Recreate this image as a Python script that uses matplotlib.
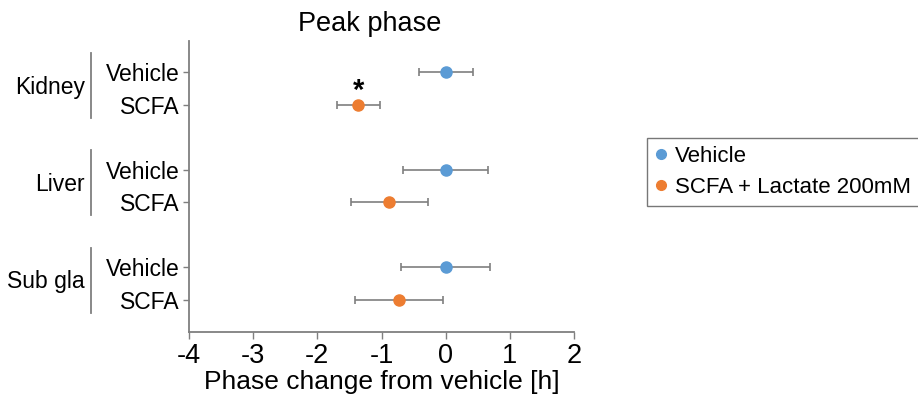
import matplotlib
matplotlib.use("Agg")
import matplotlib.pyplot as plt
import matplotlib.transforms as mtransforms
from matplotlib.lines import Line2D

plt.rcParams['font.family'] = ['Liberation Sans', 'DejaVu Sans']
plt.rcParams['axes.unicode_minus'] = False

# ============ data ============
tissues = ['Kidney', 'Liver', 'Sub gla']
row_labels = ['Vehicle', 'SCFA']
legend_labels = ['Vehicle', 'SCFA + Lactate 200mM']
vehicle_mean = [0.0, 0.0, 0.0]
vehicle_err = [0.42, 0.665, 0.69]
scfa_mean = [-1.36, -0.88, -0.73]
scfa_err = [0.34, 0.60, 0.69]
significant = [True, False, False]
x_ticks = [-4, -3, -2, -1, 0, 1, 2]

BLUE = '#5B9BD5'
ORANGE = '#ED7D31'
GRAY = '#7F7F7F'

# rows: 0,1 | 3,4 | 6,7
veh_y = [3 * i for i in range(len(tissues))]
scfa_y = [3 * i + 1 for i in range(len(tissues))]

fig = plt.figure(figsize=(9.18, 4.01), dpi=100)
ax = fig.add_axes([189 / 918, 69 / 401, 385 / 918, 291 / 401])

ax.errorbar(vehicle_mean, veh_y, xerr=vehicle_err, fmt='o', color=BLUE,
            ecolor=GRAY, elinewidth=1.2, capsize=3, capthick=1.2,
            markersize=8, zorder=3)
ax.errorbar(scfa_mean, scfa_y, xerr=scfa_err, fmt='o', color=ORANGE,
            ecolor=GRAY, elinewidth=1.2, capsize=3, capthick=1.2,
            markersize=8, zorder=3)

for i, sig in enumerate(significant):
    if sig:
        ax.text(scfa_mean[i], scfa_y[i] - 0.42, '*', ha='center', va='center',
                fontsize=21, fontweight='bold')

ax.set_xlim(-4, 2)
ax.set_ylim(8.0, -0.97)
ax.set_xticks(x_ticks)
ax.set_xticklabels([str(t) for t in x_ticks], fontsize=19.5)
ax.set_yticks(veh_y + scfa_y)
ax.set_yticklabels([row_labels[0]] * len(tissues) + [row_labels[1]] * len(tissues),
                   fontsize=16.5)
ax.tick_params(axis='y', length=4, width=1, color=GRAY, pad=3)
ax.tick_params(axis='x', length=5, width=1, color=GRAY, pad=3)

for side in ['top', 'right']:
    ax.spines[side].set_visible(False)
for side in ['left', 'bottom']:
    ax.spines[side].set_color(GRAY)
    ax.spines[side].set_linewidth(1.3)

ax.set_xlabel('Phase change from vehicle [h]', fontsize=19, labelpad=1)
ax.text(0.47, 1.06, 'Peak phase', transform=ax.transAxes, ha='center',
        va='center', fontsize=19.5)

# group brackets and labels
trans = mtransforms.blended_transform_factory(ax.transAxes, ax.transData)
for i, name in enumerate(tissues):
    top = veh_y[i] - 0.6
    bot = scfa_y[i] + 0.4
    ax.plot([-0.255, -0.255], [top, bot], transform=trans, color=GRAY,
            lw=1.3, clip_on=False)
    ax.text(-0.27, (veh_y[i] + scfa_y[i]) / 2 - 0.05, name, transform=trans,
            ha='right', va='center', fontsize=16.5)

handles = [Line2D([], [], ls='none', marker='o', color=c, markersize=7)
           for c in (BLUE, ORANGE)]
leg = fig.legend(handles, legend_labels, loc='upper left',
                 bbox_to_anchor=(647 / 918, 1 - 138 / 401),
                 fontsize=16, frameon=True, fancybox=False, handletextpad=0.3,
                 handlelength=0.6, borderpad=0.35, borderaxespad=0,
                 labelspacing=0.45)
leg.get_frame().set_edgecolor('#555555')
leg.get_frame().set_linewidth(1.0)

fig.savefig('out.png', dpi=100)
